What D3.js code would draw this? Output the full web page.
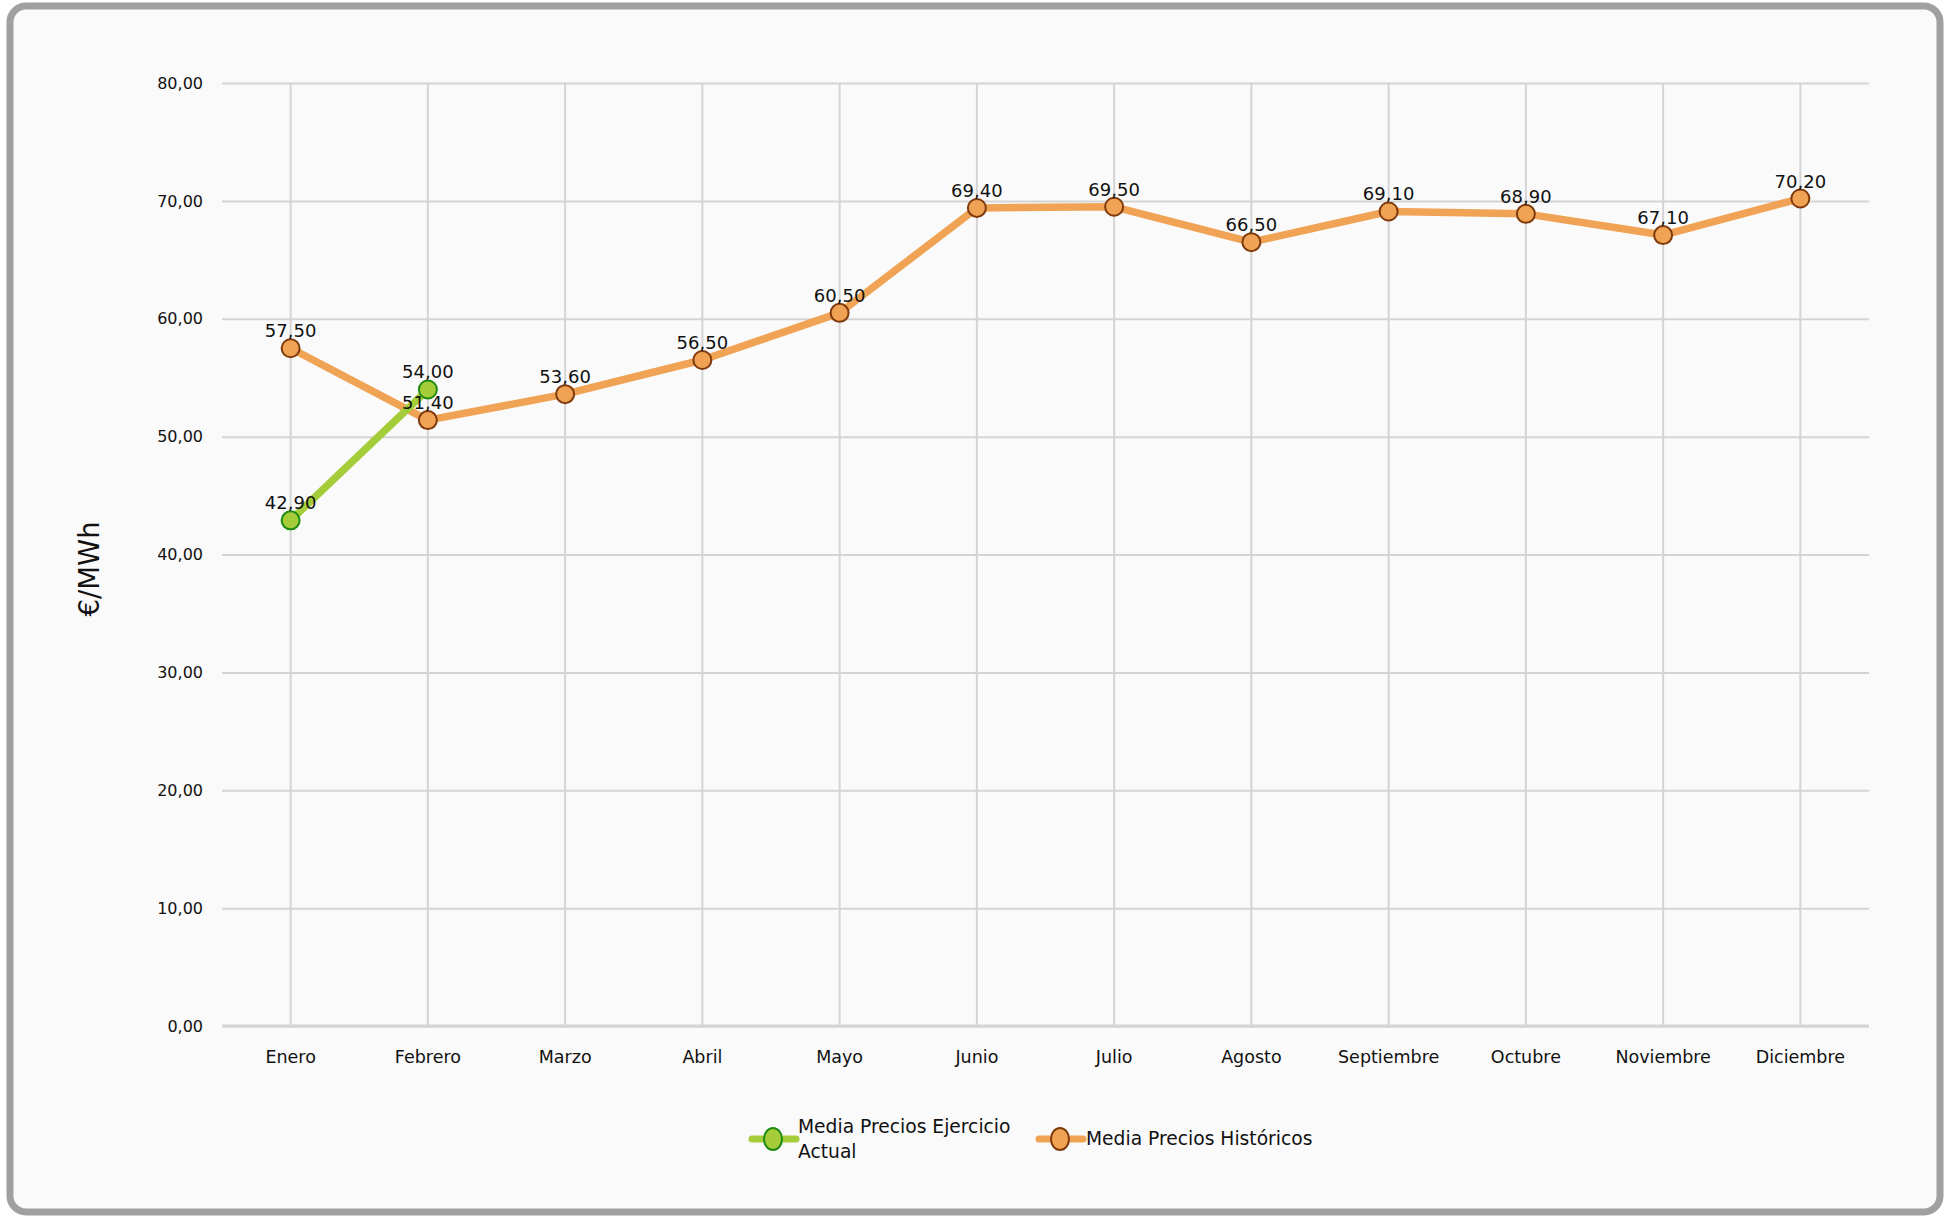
<!DOCTYPE html>
<html>
<head>
<meta charset="utf-8">
<script src="https://cdn.jsdelivr.net/npm/d3@7"></script>
<style>
  html, body { margin: 0; padding: 0; background: #ffffff; }
  svg { display: block; }
  text { font-family: "DejaVu Sans", sans-serif; fill: #111; }
</style>
</head>
<body>
<svg id="chart" width="1949" height="1217"></svg>
<script>
const months = ["Enero","Febrero","Marzo","Abril","Mayo","Junio","Julio","Agosto","Septiembre","Octubre","Noviembre","Diciembre"];
const actualValues = [42.9, 54.0];
const historicValues = [57.5, 51.4, 53.6, 56.5, 60.5, 69.4, 69.5, 66.5, 69.1, 68.9, 67.1, 70.2];
const yTicks = [0, 10, 20, 30, 40, 50, 60, 70, 80];
const seriesNames = ["Media Precios Ejercicio Actual", "Media Precios Históricos"];

(function () {
const fmt = v => d3.format(".2f")(v).replace(".", ",");
const FONT = "'DejaVu Sans', sans-serif";

const svg = d3.select("#chart");

// Frame
svg.append("rect").attr("x", 10).attr("y", 6).attr("width", 1930).attr("height", 1206)
  .attr("rx", 16).attr("ry", 16)
  .attr("fill", "#fafafa").attr("stroke", "#a0a0a0").attr("stroke-width", 7);

const pLeft = 222, pRight = 1869, pTop = 83, pBottom = 1026;

const x = d3.scaleBand().domain(months).range([pLeft, pRight]).paddingInner(0).paddingOuter(0);
const cx = m => x(m) + x.bandwidth() / 2;
const y = d3.scaleLinear().domain([0, 80]).range([pBottom, pTop]);

// Horizontal gridlines
const yAxis = d3.axisLeft(y).tickValues(yTicks).tickSize(-(pRight - pLeft)).tickFormat(fmt).tickPadding(19);
const gy = svg.append("g").attr("transform", `translate(${pLeft},0)`).call(yAxis);
gy.select(".domain").remove();
gy.selectAll(".tick line").attr("stroke", "#d4d4d4").attr("stroke-width", 2);
gy.selectAll(".tick text").attr("font-size", 16).attr("fill", "#111").style("font-family", FONT);

// Vertical gridlines
const xAxis = d3.axisBottom(x).tickSize(-(pBottom - pTop)).tickPadding(25);
const gx = svg.append("g").attr("transform", `translate(0,${pBottom})`).call(xAxis);
gx.select(".domain").remove();
gx.selectAll(".tick line").attr("stroke", "#d4d4d4").attr("stroke-width", 2);
gx.selectAll(".tick text").attr("font-size", 17.5).attr("fill", "#111").style("font-family", FONT);

// Zero line on top of verticals
svg.append("line").attr("x1", pLeft).attr("x2", pRight).attr("y1", y(0)).attr("y2", y(0))
  .attr("stroke", "#d4d4d4").attr("stroke-width", 3);

// Y axis title
svg.append("text").attr("transform", `translate(99,569) rotate(-90)`)
  .attr("text-anchor", "middle").attr("font-size", 27.5).text("€/MWh");

const line = d3.line().x(d => cx(d.m)).y(d => y(d.v));

const hist = historicValues.map((v, i) => ({ m: months[i], v }));
const act = actualValues.map((v, i) => ({ m: months[i], v }));

const orange = "#f0a354", orangeStroke = "#7f3a0c";
const green = "#a5cd39", greenStroke = "#1e8a12";

// Historic series
svg.append("path").datum(hist).attr("d", line).attr("fill", "none")
  .attr("stroke", orange).attr("stroke-width", 7.5).attr("stroke-linejoin", "round");
svg.append("g").selectAll("circle").data(hist).join("circle")
  .attr("cx", d => cx(d.m)).attr("cy", d => y(d.v)).attr("r", 9)
  .attr("fill", orange).attr("stroke", orangeStroke).attr("stroke-width", 2);

// Actual series
svg.append("path").datum(act).attr("d", line).attr("fill", "none")
  .attr("stroke", green).attr("stroke-width", 7.5).attr("stroke-linejoin", "round");
svg.append("g").selectAll("circle").data(act).join("circle")
  .attr("cx", d => cx(d.m)).attr("cy", d => y(d.v)).attr("r", 9)
  .attr("fill", green).attr("stroke", greenStroke).attr("stroke-width", 2);

// Labels
svg.append("g").selectAll("text").data(hist).join("text")
  .attr("x", d => cx(d.m)).attr("y", d => y(d.v) - 11)
  .attr("text-anchor", "middle").attr("font-size", 18).text(d => fmt(d.v));
svg.append("g").selectAll("text").data(act).join("text")
  .attr("x", d => cx(d.m)).attr("y", d => y(d.v) - 11)
  .attr("text-anchor", "middle").attr("font-size", 18).text(d => fmt(d.v));

// Legend
const lg = svg.append("g");
lg.append("line").attr("x1", 752).attr("x2", 796).attr("y1", 1139).attr("y2", 1139)
  .attr("stroke", green).attr("stroke-width", 7).attr("stroke-linecap", "round");
lg.append("ellipse").attr("cx", 773).attr("cy", 1139).attr("rx", 9).attr("ry", 11)
  .attr("fill", green).attr("stroke", greenStroke).attr("stroke-width", 2);
const t1 = lg.append("text").attr("x", 798).attr("y", 1133).attr("font-size", 18.7);
t1.append("tspan").attr("x", 798).text("Media Precios Ejercicio");
t1.append("tspan").attr("x", 798).attr("dy", 25).text("Actual");
lg.append("line").attr("x1", 1039).attr("x2", 1083).attr("y1", 1139).attr("y2", 1139)
  .attr("stroke", orange).attr("stroke-width", 7).attr("stroke-linecap", "round");
lg.append("ellipse").attr("cx", 1060).attr("cy", 1139).attr("rx", 9).attr("ry", 11)
  .attr("fill", orange).attr("stroke", orangeStroke).attr("stroke-width", 2);
lg.append("text").attr("x", 1086).attr("y", 1145).attr("font-size", 18.7).text(seriesNames[1]);
})();
</script>
</body>
</html>
